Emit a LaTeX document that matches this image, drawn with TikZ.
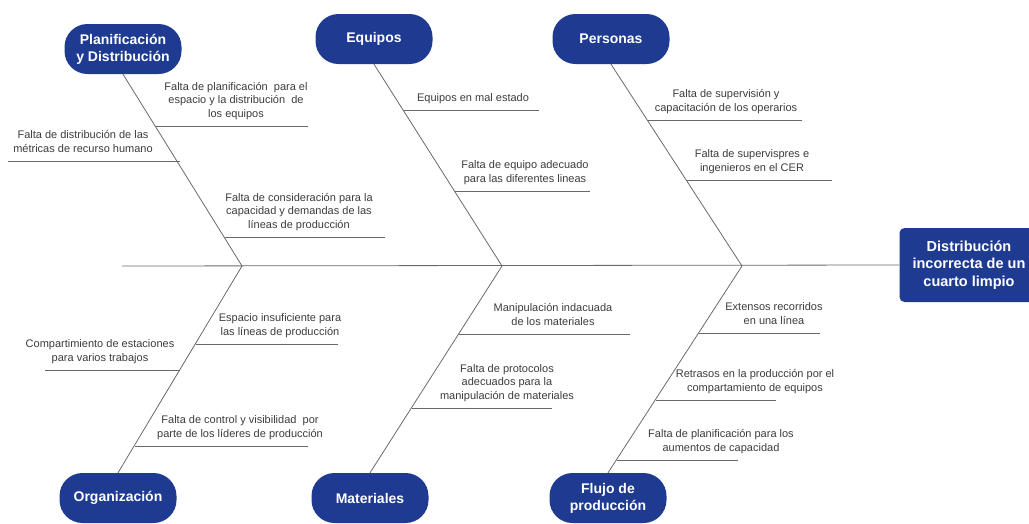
\documentclass[tikz,border=0pt]{standalone}
\usepackage{fontspec}
\setmainfont{Liberation Sans}
\definecolor{fishblue}{RGB}{30,58,145}
\definecolor{linegray}{RGB}{105,105,105}
\definecolor{txtgray}{RGB}{60,60,60}
\begin{document}
\begin{tikzpicture}[x=1pt,y=-1pt,
  cat/.style={fill=fishblue, text=white, font=\fontsize{14}{17}\selectfont\bfseries, align=center,
    rounded corners=23pt, minimum width=117pt, minimum height=50pt, inner sep=0pt},
  headbox/.style={fill=fishblue, text=white, font=\fontsize{14.5}{17.5}\selectfont\bfseries, align=center,
    rounded corners=5pt, minimum width=139pt, minimum height=74pt, inner sep=0pt},
  bone/.style={draw=linegray, line width=0.8pt},
  cause/.style={text=txtgray, font=\fontsize{11}{13.5}\selectfont, align=center, anchor=south,
    inner sep=0pt, text depth=2.5pt}
]
\useasboundingbox (0,0) rectangle (1029,523);

% head and categories
\node[headbox] (head) at (969,265) {Distribución\\incorrecta de un\\cuarto limpio};
\node[cat] (plan) at (123,49) {Planificación\\y Distribución};
\node[cat] (equipos) at (374,39) {Equipos};
\node[cat] (personas) at (611,39) {Personas};
\node[cat] (org) at (118,498) {Organización};
\node[cat] (mat) at (370,498) {Materiales};
\node[cat] (flujo) at (608,498) {Flujo de\\producción};

% spine
\coordinate (tail) at (122,266);
\coordinate (s1) at (242,266);
\coordinate (s2) at (502,266);
\coordinate (s3) at (742,266);
\draw[bone] (tail) -- (head.west);

% main bones
\draw[bone] (plan.south) -- (s1);
\draw[bone] (org.north) -- (s1);
\draw[bone] (equipos.south) -- (s2);
\draw[bone] (mat.north) -- (s2);
\draw[bone] (personas.south) -- (s3);
\draw[bone] (flujo.north) -- (s3);

% Planificación y Distribución
\coordinate (p1a) at (156,126); \coordinate (p1b) at (308,126);
\coordinate (p2a) at (8,161);   \coordinate (p2b) at (180,161);
\coordinate (p3a) at (225,237); \coordinate (p3b) at (385,237);
\draw[bone] (p1a) -- (p1b); \draw[bone] (p2a) -- (p2b); \draw[bone] (p3a) -- (p3b);
\node[cause] (tp1) at (236,120) {Falta de planificación\ \ para el\\espacio y la distribución\ \ de\\los equipos};
\node[cause] (tp2) at (83,155) {Falta de distribución de las\\métricas de recurso humano};
\node[cause] (tp3) at (299,231) {Falta de consideración para la\\capacidad y demandas de las\\líneas de producción};

% Equipos
\coordinate (e1a) at (403,110); \coordinate (e1b) at (539,110);
\coordinate (e2a) at (455,191); \coordinate (e2b) at (590,191);
\draw[bone] (e1a) -- (e1b); \draw[bone] (e2a) -- (e2b);
\node[cause] (te1) at (473,104) {Equipos en mal estado};
\node[cause] (te2) at (525,185) {Falta de equipo adecuado\\para las diferentes lineas};

% Personas
\coordinate (r1a) at (648,120); \coordinate (r1b) at (802,120);
\coordinate (r2a) at (687,180); \coordinate (r2b) at (832,180);
\draw[bone] (r1a) -- (r1b); \draw[bone] (r2a) -- (r2b);
\node[cause] (tr1) at (726,114) {Falta de supervisión y\\capacitación de los operarios};
\node[cause] (tr2) at (752,174) {Falta de supervispres e\\ingenieros en el CER};

% Organización
\coordinate (o1a) at (196,344); \coordinate (o1b) at (338,344);
\coordinate (o2a) at (45,370);  \coordinate (o2b) at (180,370);
\coordinate (o3a) at (135,446); \coordinate (o3b) at (308,446);
\draw[bone] (o1a) -- (o1b); \draw[bone] (o2a) -- (o2b); \draw[bone] (o3a) -- (o3b);
\node[cause] (to1) at (280,338) {Espacio insuficiente para\\las líneas de producción};
\node[cause] (to2) at (100,364) {Compartimiento de estaciones\\para varios trabajos};
\node[cause] (to3) at (240,440) {Falta de control y visibilidad\ \ por\\parte de los líderes de producción};

% Materiales
\coordinate (m1a) at (459,334); \coordinate (m1b) at (630,334);
\coordinate (m2a) at (412,408); \coordinate (m2b) at (552,408);
\draw[bone] (m1a) -- (m1b); \draw[bone] (m2a) -- (m2b);
\node[cause] (tm1) at (553,328) {Manipulación indacuada\\de los materiales};
\node[cause] (tm2) at (507,402) {Falta de protocolos\\adecuados para la\\manipulación de materiales};

% Flujo de producción
\coordinate (f1a) at (699,333); \coordinate (f1b) at (820,333);
\coordinate (f2a) at (656,400); \coordinate (f2b) at (776,400);
\coordinate (f3a) at (617,460); \coordinate (f3b) at (738,460);
\draw[bone] (f1a) -- (f1b); \draw[bone] (f2a) -- (f2b); \draw[bone] (f3a) -- (f3b);
\node[cause] (tf1) at (774,327) {Extensos recorridos\\en una línea};
\node[cause] (tf2) at (755,394) {Retrasos en la producción por el\\compartamiento de equipos};
\node[cause] (tf3) at (721,454) {Falta de planificación para los\\aumentos de capacidad};
\end{tikzpicture}
\end{document}
